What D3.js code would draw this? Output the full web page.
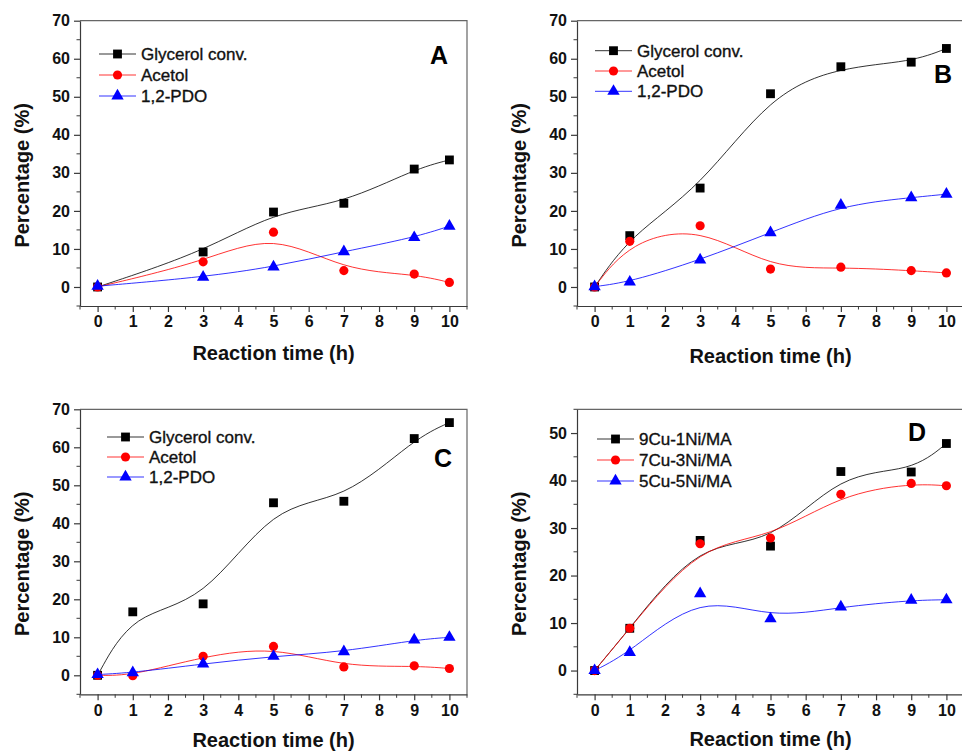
<!DOCTYPE html>
<html>
<head>
<meta charset="utf-8">
<script src="https://cdn.jsdelivr.net/npm/d3@7"></script>
<style>
  body { margin: 0; background: #fff; }
  svg { display: block; font-family: "Liberation Sans", Arial, sans-serif; }
</style>
</head>
<body>
<svg></svg>
<script>
// reaction times (h)
var hoursA = [0, 3, 5, 7, 9, 10]
var hoursBCD = [0, 1, 3, 5, 7, 9, 10]

// panel A
var glycerolA = [0, 9.2, 19.7, 22.0, 31.0, 33.4]
var acetolA = [0, 6.6, 14.4, 4.3, 3.4, 1.2]
var pdoA = [0.2, 2.6, 5.3, 9.3, 13.0, 16.0]

// panel B
var glycerolB = [0, 13.5, 26.0, 50.8, 57.9, 59.1, 62.7]
var acetolB = [0, 12.0, 16.1, 4.7, 5.2, 4.3, 3.7]
var pdoB = [0.1, 1.3, 7.1, 14.3, 21.5, 23.5, 24.4]

// panel C
var glycerolC = [0, 16.7, 18.8, 45.4, 45.8, 62.3, 66.5]
var acetolC = [0, -0.1, 5.0, 7.6, 2.2, 2.5, 1.8]
var pdoC = [0.2, 0.7, 3.0, 5.0, 6.2, 9.3, 10.0]

// panel D
var cu9ni1 = [0, 8.9, 27.4, 26.2, 41.9, 41.8, 47.8]
var cu7ni3 = [0, 8.9, 26.7, 27.9, 37.1, 39.4, 38.9]
var cu5ni5 = [0, 3.8, 16.2, 10.9, 13.4, 14.8, 14.9]

var labelsABC = ["Glycerol conv.", "Acetol", "1,2-PDO"]
var labelsD = ["9Cu-1Ni/MA", "7Cu-3Ni/MA", "5Cu-5Ni/MA"]
var panelLetters = ["A", "B", "C", "D"]
var xTickLabels = [0, 1, 2, 3, 4, 5, 6, 7, 8, 9, 10]
var yTicks70 = [0, 10, 20, 30, 40, 50, 60, 70]
var yTicks50 = [0, 10, 20, 30, 40, 50]

var colors = ["#000000", "#ff0000", "#0000ff"]
var shapes = [d3.symbolSquare, d3.symbolCircle, d3.symbolTriangle]
var symSizes = [78, 66, 66]

var screen = {width: 962, height: 753}

var panels = [
  {letter: panelLetters[0], left: 80, top: 20.7, h: 285.3, ymax: 70, yticks: yTicks70, hours: hoursA,
   series: [glycerolA, acetolA, pdoA], labels: labelsABC, titleY: 360,
   leg: {x: 99, y: 54, gap: 21}, let: {x: 439, y: 64}},
  {letter: panelLetters[1], left: 577, top: 20.7, h: 285.3, ymax: 70, yticks: yTicks70, hours: hoursBCD,
   series: [glycerolB, acetolB, pdoB], labels: labelsABC, titleY: 363,
   leg: {x: 595, y: 50.7, gap: 20.3}, let: {x: 943, y: 83}},
  {letter: panelLetters[2], left: 80, top: 409.3, h: 285, ymax: 70, yticks: yTicks70, hours: hoursBCD,
   series: [glycerolC, acetolC, pdoC], labels: labelsABC, titleY: 747,
   leg: {x: 107, y: 437, gap: 20}, let: {x: 443, y: 467}},
  {letter: panelLetters[3], left: 577, top: 409.3, h: 285, ymax: 55, yticks: yTicks50, hours: hoursBCD,
   series: [cu9ni1, cu7ni3, cu5ni5], labels: labelsD, titleY: 746,
   leg: {x: 597, y: 439, gap: 21}, let: {x: 917, y: 441}}
]

var svg = d3.select("svg")
  .attr("width", screen.width)
  .attr("height", screen.height)

var axisColor = "#3a3a3a"

panels.forEach(function(p)
{
  var w = 387
  var xScale = d3.scaleLinear().domain([-0.5, 10.5]).range([p.left, p.left + w])
  var yScale = d3.scaleLinear().domain([-5, p.ymax]).range([p.top + p.h, p.top])
  var g = svg.append("g")

  // frame top + right
  g.append("path")
    .attr("d", "M" + p.left + "," + p.top + "H" + (p.left + w) + "V" + (p.top + p.h))
    .attr("fill", "none")
    .attr("stroke", "#666")
    .attr("stroke-width", 1.2)

  // x axis
  var xAxis = d3.axisBottom(xScale)
    .tickValues(xTickLabels)
    .tickSize(6)
    .tickSizeOuter(0)
    .tickPadding(4)
  var gx = g.append("g")
    .attr("transform", "translate(0," + yScale(-5) + ")")
    .call(xAxis)
  gx.selectAll(".tick text")
    .attr("font-size", 16)
    .attr("font-weight", "bold")
    .attr("fill", "#111")
    .attr("font-family", "Liberation Sans, Arial, sans-serif")
  var xMinor = d3.range(-0.5, 10.6, 1)
  gx.selectAll(".minor")
    .data(xMinor)
    .enter()
    .append("line")
    .attr("x1", function(d) { return xScale(d) })
    .attr("x2", function(d) { return xScale(d) })
    .attr("y1", 0)
    .attr("y2", 3.5)
    .attr("stroke", axisColor)

  // y axis
  var yAxis = d3.axisLeft(yScale)
    .tickValues(p.yticks)
    .tickSize(6)
    .tickSizeOuter(0)
    .tickPadding(4)
  var gy = g.append("g")
    .attr("transform", "translate(" + xScale(-0.5) + ",0)")
    .call(yAxis)
  gy.selectAll(".tick text")
    .attr("font-size", 16)
    .attr("font-weight", "bold")
    .attr("fill", "#111")
    .attr("font-family", "Liberation Sans, Arial, sans-serif")
  var yMinor = d3.range(-5, p.ymax + 0.1, 10)
  gy.selectAll(".minor")
    .data(yMinor)
    .enter()
    .append("line")
    .attr("x1", 0)
    .attr("x2", -3.5)
    .attr("y1", function(d) { return yScale(d) })
    .attr("y2", function(d) { return yScale(d) })
    .attr("stroke", axisColor)
  g.selectAll(".domain, .tick line").attr("stroke", axisColor).attr("stroke-width", 1.2)

  // axis titles
  g.append("text")
    .attr("x", p.left + w / 2)
    .attr("y", p.titleY)
    .attr("text-anchor", "middle")
    .attr("font-size", 20)
    .attr("font-weight", "bold")
    .attr("fill", "#111")
    .text("Reaction time (h)")
  g.append("text")
    .attr("transform", "translate(" + (p.left - 51) + "," + (p.top + p.h / 2 + 12) + ") rotate(-90)")
    .attr("text-anchor", "middle")
    .attr("font-size", 20)
    .attr("font-weight", "bold")
    .attr("fill", "#111")
    .text("Percentage (%)")

  // series
  var line = d3.line()
    .x(function(d) { return xScale(d.x) })
    .y(function(d) { return yScale(d.y) })
    .curve(d3.curveBasis)

  p.series.forEach(function(vals, i)
  {
    var pts = vals.map(function(v, j) { return {x: p.hours[j], y: v} })
    g.append("path")
      .datum(pts)
      .attr("d", line)
      .attr("fill", "none")
      .attr("stroke", colors[i])
      .attr("stroke-width", 1)
      .attr("stroke-opacity", 0.8)
    g.selectAll(".pt" + i)
      .data(pts)
      .enter()
      .append("path")
      .attr("transform", function(d) { return "translate(" + xScale(d.x) + "," + yScale(d.y) + ")" })
      .attr("d", d3.symbol().type(shapes[i]).size(symSizes[i]))
      .attr("fill", colors[i])
  })

  // legend
  p.labels.forEach(function(lab, i)
  {
    var ly = p.leg.y + i * p.leg.gap
    g.append("line")
      .attr("x1", p.leg.x).attr("x2", p.leg.x + 37)
      .attr("y1", ly).attr("y2", ly)
      .attr("stroke", colors[i])
      .attr("stroke-width", 1)
      .attr("stroke-opacity", 0.8)
    g.append("path")
      .attr("transform", "translate(" + (p.leg.x + 18.5) + "," + ly + ")")
      .attr("d", d3.symbol().type(shapes[i]).size(symSizes[i]))
      .attr("fill", colors[i])
    g.append("text")
      .attr("x", p.leg.x + 42)
      .attr("y", ly + 6)
      .attr("font-size", 17)
      .attr("fill", "#111")
      .attr("stroke", "#111")
      .attr("stroke-width", 0.35)
      .text(lab)
  })

  // panel letter
  g.append("text")
    .attr("x", p.let.x)
    .attr("y", p.let.y)
    .attr("text-anchor", "middle")
    .attr("font-size", 25)
    .attr("font-weight", "bold")
    .attr("fill", "#000")
    .text(p.letter)
})
</script>
</body>
</html>
